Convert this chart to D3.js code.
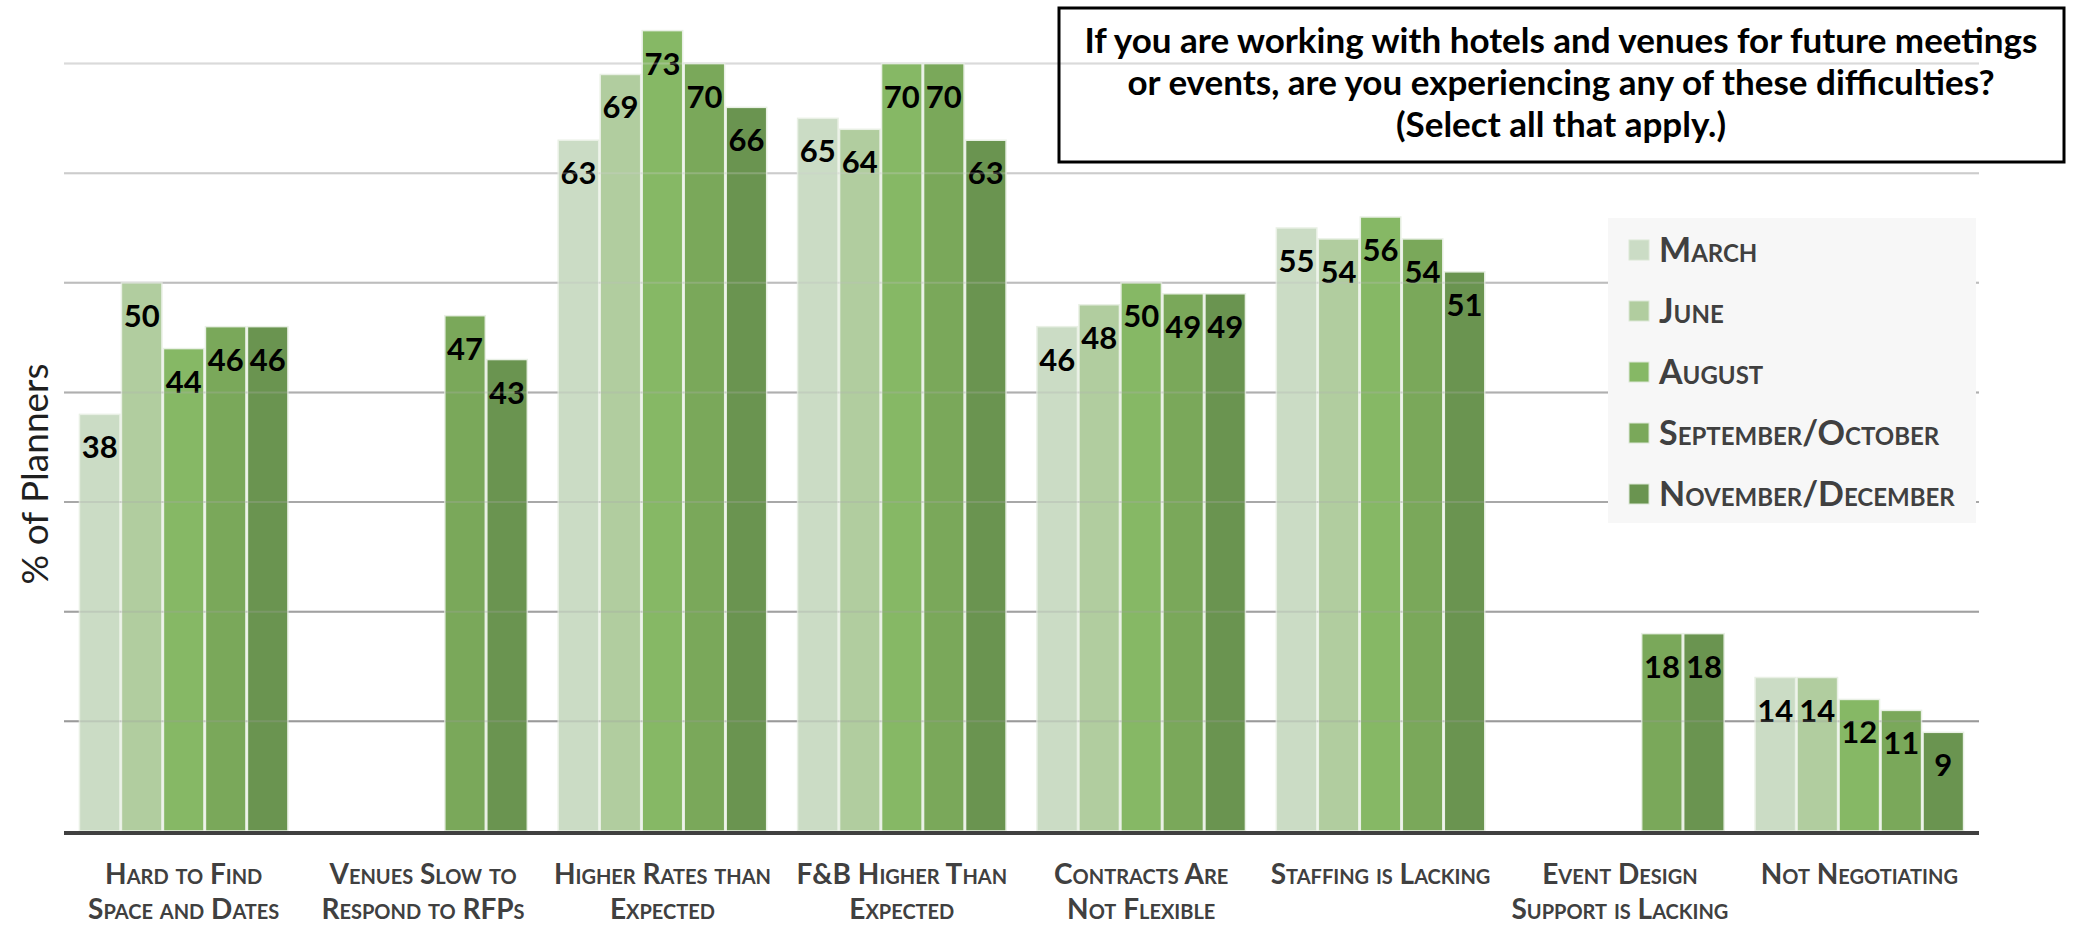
<!DOCTYPE html>
<html>
<head>
<meta charset="utf-8">
<script src="https://cdn.jsdelivr.net/npm/d3@7"></script>
<style>
  html, body { margin: 0; padding: 0; background: #ffffff; }
  svg { display: block; }
  text { font-family: Lato, "Open Sans", "Noto Sans", sans-serif; }
  .sc { font-variant: small-caps; }
</style>
</head>
<body>
<svg id="chart" width="2075" height="926"></svg>
<script>
// Survey waves (series) and their colours
const seriesNames = ["March", "June", "August", "September/October", "November/December"];
const seriesColors = ["#cbdcc5", "#b1cd9f", "#86b865", "#7aa85a", "#6a9450"];

// Difficulty categories, each split into its display lines
const categoryLines = [
  ["Hard to Find", "Space and Dates"],
  ["Venues Slow to", "Respond to RFPs"],
  ["Higher Rates than", "Expected"],
  ["F&B Higher Than", "Expected"],
  ["Contracts Are", "Not Flexible"],
  ["Staffing is Lacking"],
  ["Event Design", "Support is Lacking"],
  ["Not Negotiating"]
];

// % of planners per wave (null = not asked in that wave)
const marchValues  = [38, null, 63, 65, 46, 55, null, 14];
const juneValues   = [50, null, 69, 64, 48, 54, null, 14];
const augustValues = [44, null, 73, 70, 50, 56, null, 12];
const sepOctValues = [46, 47, 70, 70, 49, 54, 18, 11];
const novDecValues = [46, 43, 66, 63, 49, 51, 18, 9];

// Gridline values
const gridTicks = [10, 20, 30, 40, 50, 60, 70];

const titleLines = [
  "If you are working with hotels and venues for future meetings",
  "or events, are you experiencing any of these difficulties?",
  "(Select all that apply.)"
];
const yTitle = "% of Planners";

const seriesValues = [marchValues, juneValues, augustValues, sepOctValues, novDecValues];
const categories = categoryLines.map(l => l.join(" "));

const svg = d3.select("#chart");

const plotLeft = 64, plotRight = 1979;
const x0 = d3.scaleBand().domain(categories).range([plotLeft, plotRight])
  .paddingInner(0.1228).paddingOuter(0.0614);
const x1 = d3.scaleBand().domain(seriesNames).range([0, x0.bandwidth()]);
const y = d3.scaleLinear().domain([0, 70]).range([831, 63.5]);

const gridColor = d3.scaleLinear().domain([10, 40, 70]).range(["#9a9a9a", "#afafaf", "#dadada"]);

// Gridlines behind bars
const gridBack = svg.append("g");
gridBack.selectAll("line").data(gridTicks).join("line")
  .attr("x1", plotLeft).attr("x2", plotRight)
  .attr("y1", d => y(d)).attr("y2", d => y(d))
  .attr("stroke", d => gridColor(d)).attr("stroke-width", 2);

// Bars
const rows = [];
categories.forEach((c, ci) => {
  seriesNames.forEach((s, si) => {
    const v = seriesValues[si][ci];
    if (v != null) rows.push({ c, s, si, v });
  });
});

const barG = svg.append("g");
barG.selectAll("rect").data(rows).join("rect")
  .attr("x", d => x0(d.c) + x1(d.s) + 0.75)
  .attr("y", d => y(d.v))
  .attr("width", x1.bandwidth() - 1.5)
  .attr("height", d => y(0) - y(d.v))
  .attr("fill", d => seriesColors[d.si])
  .attr("stroke", "#e9f0e5")
  .attr("stroke-width", 1.5);

// Gridlines faintly showing through the bars
svg.append("g").selectAll("line").data(gridTicks).join("line")
  .attr("x1", plotLeft).attr("x2", plotRight)
  .attr("y1", d => y(d)).attr("y2", d => y(d))
  .attr("stroke", d => gridColor(d)).attr("stroke-width", 2)
  .attr("stroke-opacity", 0.3);

// Value labels inside the bar tops
barG.selectAll("text").data(rows).join("text")
  .attr("x", d => x0(d.c) + x1(d.s) + x1.bandwidth() / 2)
  .attr("y", d => y(d.v) + 44)
  .attr("text-anchor", "middle")
  .attr("font-size", 31)
  .attr("font-weight", 700)
  .attr("fill", "#000")
  .text(d => d.v);

// Category axis baseline
const xAxis = d3.axisBottom(x0).tickSize(0).tickFormat("");
svg.append("g").attr("transform", `translate(0,${y(0)})`).call(xAxis)
  .call(g => g.select(".domain").attr("stroke", "#404040").attr("stroke-width", 4)
    .attr("d", `M${plotLeft},2H${plotRight}`));

// Category labels (two lines, small caps)
const catG = svg.append("g");
categories.forEach((c, ci) => {
  const t = catG.append("text")
    .attr("class", "sc")
    .attr("x", x0(c) + x0.bandwidth() / 2)
    .attr("text-anchor", "middle")
    .attr("font-size", 28)
    .attr("font-weight", 700)
    .attr("fill", "#404040");
  categoryLines[ci].forEach((line, li) => {
    t.append("tspan").attr("x", x0(c) + x0.bandwidth() / 2)
      .attr("y", 884 + li * 35).text(line);
  });
});

// Y axis title
svg.append("text")
  .attr("transform", "translate(48,474) rotate(-90)")
  .attr("text-anchor", "middle")
  .attr("font-size", 37)
  .attr("font-weight", 400)
  .attr("fill", "#1f1f1f")
  .text(yTitle);

// Legend
const legend = svg.append("g");
legend.append("rect")
  .attr("x", 1608).attr("y", 218).attr("width", 368).attr("height", 305)
  .attr("fill", "#f7f7f7");
seriesNames.forEach((s, i) => {
  const cy = 250 + i * 61;
  legend.append("rect")
    .attr("x", 1629).attr("y", cy - 10).attr("width", 20).attr("height", 20)
    .attr("fill", seriesColors[i]).attr("stroke", "#dbe7d5").attr("stroke-width", 1);
  legend.append("text")
    .attr("class", "sc")
    .attr("x", 1659).attr("y", cy + 12)
    .attr("font-size", 34)
    .attr("font-weight", 700)
    .attr("fill", "#404040")
    .text(s);
});

// Question box
svg.append("rect")
  .attr("x", 1059).attr("y", 8).attr("width", 1005).attr("height", 154)
  .attr("fill", "none").attr("stroke", "#000").attr("stroke-width", 3);
const title = svg.append("text")
  .attr("text-anchor", "middle")
  .attr("font-size", 35)
  .attr("font-weight", 700)
  .attr("fill", "#000");
titleLines.forEach((line, i) => {
  title.append("tspan").attr("x", 1561).attr("y", 53 + i * 42).text(line);
});
</script>
</body>
</html>
